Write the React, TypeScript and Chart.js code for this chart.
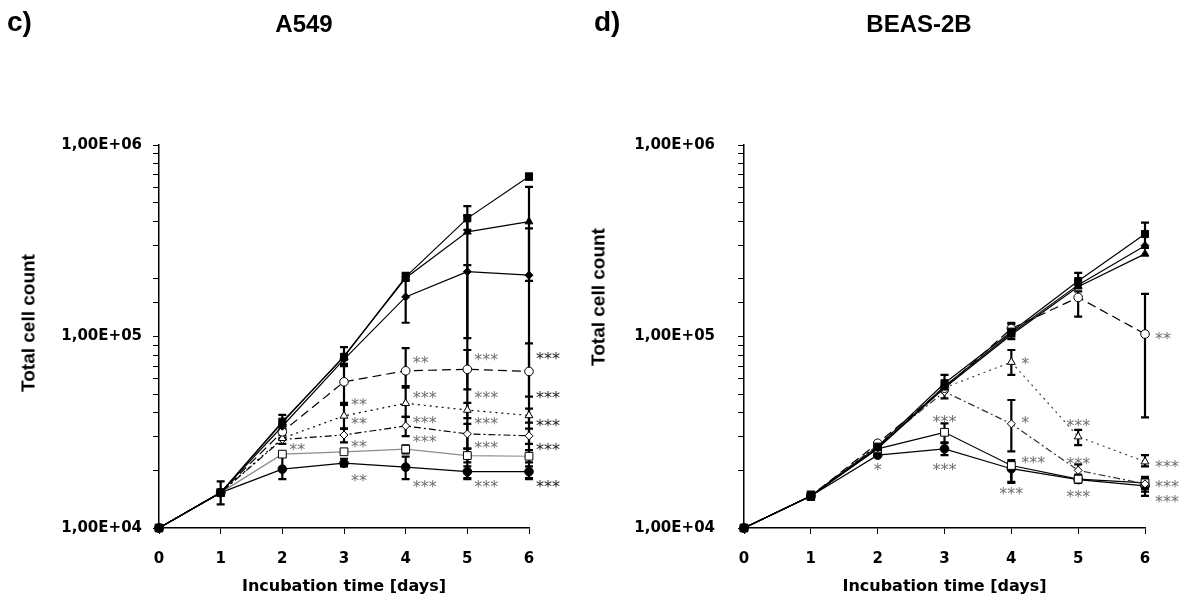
import React, { useEffect, useRef } from 'react';
import { Chart, registerables } from 'chart.js';
Chart.register(...registerables);

const DAYS = [0, 1, 2, 3, 4, 5, 6];
const Y_MIN = 1e4;
const Y_MAX = 1e6;
const X_TITLE = 'Incubation time [days]';
const Y_TITLE = 'Total cell count';

// ---------- A549 (panel c) ----------
const A549_CTRL = [1e4, 1.53e4, 3.59e4, 7.83e4, 2.05e5, 4.14e5, 6.84e5];
const A549_TRI_F = [1e4, 1.53e4, 3.55e4, 7.9e4, 2.02e5, 3.52e5, 3.98e5];
const A549_DIA_F = [1e4, 1.53e4, 3.4e4, 7.6e4, 1.61e5, 2.18e5, 2.09e5];
const A549_CIRC_O = [1e4, 1.53e4, 3.18e4, 5.8e4, 6.62e4, 6.74e4, 6.57e4];
const A549_TRI_O = [1e4, 1.53e4, 2.94e4, 3.85e4, 4.48e4, 4.13e4, 3.87e4];
const A549_DIA_O = [1e4, 1.53e4, 2.9e4, 3.06e4, 3.41e4, 3.1e4, 3.03e4];
const A549_SQ_O = [1e4, 1.53e4, 2.43e4, 2.5e4, 2.58e4, 2.39e4, 2.37e4];
const A549_CIRC_F = [1e4, 1.53e4, 2.03e4, 2.18e4, 2.08e4, 1.97e4, 1.97e4];

const A549_CTRL_LO = [null, 1.33e4, 3.3e4, 7.2e4, 1.95e5, 3.6e5, 6.6e5];
const A549_CTRL_HI = [null, 1.75e4, 3.9e4, 8.8e4, 2.15e5, 4.8e5, 7.1e5];
const A549_TRI_F_LO = [null, null, null, null, null, 9.8e4, 4.85e4];
const A549_TRI_F_HI = [null, null, null, null, null, 4.3e5, 6.05e5];
const A549_DIA_F_LO = [null, null, null, null, 1.18e5, 1.8e4, 1.95e5];
const A549_DIA_F_HI = [null, null, null, null, 2.05e5, 2.36e5, 3.67e5];
const A549_CIRC_O_LO = [null, null, 2.95e4, 4.5e4, 5.5e4, 5.3e4, 1.8e4];
const A549_CIRC_O_HI = [null, null, 3.4e4, 7.0e4, 8.7e4, 8.5e4, 9.2e4];
const A549_TRI_O_LO = [null, null, null, 3.3e4, 3.8e4, 3.75e4, 3.55e4];
const A549_TRI_O_HI = [null, null, null, 4.4e4, 5.4e4, 4.5e4, 4.2e4];
const A549_DIA_O_LO = [null, null, 2.75e4, 2.8e4, 3.02e4, 2.6e4, 2.75e4];
const A549_DIA_O_HI = [null, null, 3.05e4, 3.3e4, 3.8e4, 3.5e4, 3.3e4];
const A549_SQ_O_LO = [null, null, null, null, 2.45e4, 2.2e4, 2.2e4];
const A549_SQ_O_HI = [null, null, null, null, 2.7e4, 2.6e4, 2.55e4];
const A549_CIRC_F_LO = [null, null, 1.8e4, 2.1e4, 1.8e4, 1.82e4, 1.82e4];
const A549_CIRC_F_HI = [null, null, 2.35e4, 2.3e4, 2.36e4, 2.1e4, 2.1e4];

const A549_STAR_DAYS = [2, 3, 3, 3, 3, 4, 4, 4, 4, 4, 5, 5, 5, 5, 5, 6, 6, 6, 6, 6];
const A549_STAR_VALUES = [2.71e4, 4.64e4, 3.7e4, 2.81e4, 1.86e4, 7.7e4, 5.07e4, 3.75e4, 2.99e4, 1.74e4, 8.0e4, 5.07e4, 3.7e4, 2.78e4, 1.74e4, 8.1e4, 5.1e4, 3.62e4, 2.71e4, 1.74e4];
const A549_STAR_TEXT = ['**', '**', '**', '**', '**', '**', '***', '***', '***', '***', '***', '***', '***', '***', '***', '***', '***', '***', '***', '***'];
const A549_STAR_POS = A549_STAR_DAYS.map(() => 'r');

// ---------- BEAS-2B (panel d) ----------
const BEAS_CTRL = [1e4, 1.47e4, 2.66e4, 5.7e4, 1.06e5, 1.95e5, 3.43e5];
const BEAS_TRI_F = [1e4, 1.47e4, 2.6e4, 5.4e4, 1.02e5, 1.82e5, 2.7e5];
const BEAS_DIA_F = [1e4, 1.47e4, 2.62e4, 5.5e4, 1.04e5, 1.86e5, 2.98e5];
const BEAS_CIRC_O = [1e4, 1.47e4, 2.77e4, 5.37e4, 1.1e5, 1.6e5, 1.03e5];
const BEAS_TRI_O = [1e4, 1.47e4, 2.7e4, 5.4e4, 7.35e4, 3.0e4, 2.22e4];
const BEAS_DIA_O = [1e4, 1.47e4, 2.7e4, 5.15e4, 3.5e4, 2.0e4, 1.7e4];
const BEAS_SQ_O = [1e4, 1.47e4, 2.59e4, 3.16e4, 2.12e4, 1.8e4, 1.72e4];
const BEAS_CIRC_F = [1e4, 1.47e4, 2.4e4, 2.59e4, 2.04e4, 1.79e4, 1.66e4];

const BEAS_CTRL_LO = [null, 1.4e4, 2.55e4, 4.75e4, 9.7e4, 1.8e5, 2.9e5];
const BEAS_CTRL_HI = [null, 1.55e4, 2.8e4, 6.3e4, 1.18e5, 2.15e5, 3.93e5];
const BEAS_CIRC_O_LO = [null, null, null, null, 1.02e5, 1.27e5, 3.78e4];
const BEAS_CIRC_O_HI = [null, null, null, null, 1.16e5, 1.72e5, 1.67e5];
const BEAS_TRI_O_LO = [null, null, null, null, 6.3e4, 2.71e4, 2.1e4];
const BEAS_TRI_O_HI = [null, null, null, null, 8.5e4, 3.25e4, 2.4e4];
const BEAS_DIA_O_LO = [null, null, null, null, 2.51e4, 1.9e4, 1.6e4];
const BEAS_DIA_O_HI = [null, null, null, null, 4.66e4, 2.15e4, 1.8e4];
const BEAS_SQ_O_LO = [null, null, null, 2.77e4, 1.72e4, null, 1.55e4];
const BEAS_SQ_O_HI = [null, null, null, 3.52e4, 2.26e4, null, 1.85e4];
const BEAS_CIRC_F_LO = [null, null, null, 2.4e4, 1.74e4, 1.72e4, 1.47e4];
const BEAS_CIRC_F_HI = [null, null, null, 2.8e4, 2.2e4, 1.86e4, 1.75e4];

const BEAS_STAR_DAYS = [2, 3, 3, 4, 4, 4, 4, 5, 5, 5, 6, 6, 6, 6];
const BEAS_STAR_VALUES = [2.13e4, 3.8e4, 2.13e4, 7.64e4, 3.75e4, 2.32e4, 1.6e4, 3.62e4, 2.29e4, 1.55e4, 1.03e5, 2.22e4, 1.74e4, 1.46e4];
const BEAS_STAR_TEXT = ['*', '***', '***', '*', '*', '***', '***', '***', '***', '***', '**', '***', '***', '***'];
const BEAS_STAR_POS = ['c', 'c', 'c', 'r', 'r', 'r', 'c', 'c', 'c', 'c', 'r', 'r', 'r', 'r'];

// ---------- styles (one per series, same order in both panels) ----------
const STYLES = [
  { pointStyle: 'rect', radius: 5, fill: '#000', dash: [] as number[], line: '#000' },
  { pointStyle: 'triangle', radius: 4.5, fill: '#000', dash: [], line: '#000' },
  { pointStyle: 'rectRot', radius: 4, fill: '#000', dash: [], line: '#000' },
  { pointStyle: 'circle', radius: 4.3, fill: '#fff', dash: [9, 5], line: '#000' },
  { pointStyle: 'triangle', radius: 4.5, fill: '#fff', dash: [2, 4], line: '#000' },
  { pointStyle: 'rectRot', radius: 4, fill: '#fff', dash: [7, 3, 2, 3], line: '#000' },
  { pointStyle: 'rect', radius: 5.5, fill: '#fff', dash: [], line: '#000' },
  { pointStyle: 'circle', radius: 4.3, fill: '#000', dash: [], line: '#000' },
];

const TICK_FONT = { family: 'DejaVu Sans', weight: 'bold' as const, size: 15 };
const XTITLE_FONT = { family: 'DejaVu Sans', weight: 'bold' as const, size: 16 };

const errorBarPlugin = {
  id: 'errorBars',
  beforeDatasetsDraw(chart: any) {
    const { ctx, scales } = chart;
    const xs = scales.x, ys = scales.y;
    ctx.save();
    ctx.strokeStyle = '#000';
    ctx.lineWidth = 2.2;
    ctx.setLineDash([]);
    chart.data.datasets.forEach((ds: any) => {
      const lo = ds.errLow, hi = ds.errHigh;
      if (!lo || !hi) return;
      DAYS.forEach((d, i) => {
        if (lo[i] == null || hi[i] == null) return;
        const px = xs.getPixelForValue(d);
        const y1 = ys.getPixelForValue(lo[i]);
        const y2 = ys.getPixelForValue(hi[i]);
        ctx.beginPath();
        ctx.moveTo(px, y1); ctx.lineTo(px, y2);
        ctx.moveTo(px - 4, y1); ctx.lineTo(px + 4, y1);
        ctx.moveTo(px - 4, y2); ctx.lineTo(px + 4, y2);
        ctx.stroke();
      });
    });
    ctx.restore();
  },
};

const starPlugin = {
  id: 'stars',
  afterDatasetsDraw(chart: any, _args: any, opts: any) {
    const { ctx, scales } = chart;
    const p = opts.panel;
    if (!p) return;
    ctx.save();
    ctx.font = '16px "DejaVu Sans"';
    ctx.textBaseline = 'alphabetic';
    p.starDays.forEach((d: number, i: number) => {
      const px = scales.x.getPixelForValue(d);
      const py = scales.y.getPixelForValue(p.starValues[i]);
      const pos = p.starPos[i];
      ctx.fillStyle = p.darkLastDay && d === 6 ? '#1a1a1a' : '#6e6e6e';
      ctx.textAlign = pos === 'c' ? 'center' : 'left';
      const x = pos === 'c' ? px : px + p.starGap;
      ctx.fillText(p.starText[i], x, py + 10);
    });
    ctx.restore();
  },
};

function makeDatasets(series: number[][], lows: any[][], highs: any[][], lineColors: string[]) {
  return series.map((vals, k) => {
    const s = STYLES[k];
    return {
      data: DAYS.map((d, i) => ({ x: d, y: vals[i] })),
      errLow: lows[k],
      errHigh: highs[k],
      borderColor: lineColors[k] || s.line,
      borderWidth: 1.2,
      borderDash: s.dash,
      tension: 0,
      fill: false,
      clip: false,
      pointStyle: s.pointStyle,
      pointRadius: s.radius,
      pointBackgroundColor: s.fill,
      pointBorderColor: '#000',
      pointBorderWidth: 1,
      pointHoverRadius: s.radius,
    };
  });
}

const NONE = [null, null, null, null, null, null, null];

const PANELS = [
  {
    key: 'c',
    letter: 'c)',
    name: 'A549',
    canvasLeft: 0,
    canvasWidth: 570,
    yScaleWidth: 159,
    padRight: 41,
    yTickPad: 11,
    nameCenter: 304,
    letterLeft: 7,
    yTitleX: 28,
    yTitleY: 323,
    starGap: 7,
    darkLastDay: true,
    series: [A549_CTRL, A549_TRI_F, A549_DIA_F, A549_CIRC_O, A549_TRI_O, A549_DIA_O, A549_SQ_O, A549_CIRC_F],
    lows: [A549_CTRL_LO, A549_TRI_F_LO, A549_DIA_F_LO, A549_CIRC_O_LO, A549_TRI_O_LO, A549_DIA_O_LO, A549_SQ_O_LO, A549_CIRC_F_LO],
    highs: [A549_CTRL_HI, A549_TRI_F_HI, A549_DIA_F_HI, A549_CIRC_O_HI, A549_TRI_O_HI, A549_DIA_O_HI, A549_SQ_O_HI, A549_CIRC_F_HI],
    lineColors: ['', '', '', '', '', '', '#8c8c8c', ''],
    starDays: A549_STAR_DAYS,
    starValues: A549_STAR_VALUES,
    starText: A549_STAR_TEXT,
    starPos: A549_STAR_POS,
  },
  {
    key: 'd',
    letter: 'd)',
    name: 'BEAS-2B',
    canvasLeft: 570,
    canvasWidth: 614,
    yScaleWidth: 174,
    padRight: 39,
    yTickPad: 23,
    nameCenter: 919,
    letterLeft: 594,
    yTitleX: 598,
    yTitleY: 297,
    starGap: 10,
    darkLastDay: false,
    series: [BEAS_CTRL, BEAS_TRI_F, BEAS_DIA_F, BEAS_CIRC_O, BEAS_TRI_O, BEAS_DIA_O, BEAS_SQ_O, BEAS_CIRC_F],
    lows: [BEAS_CTRL_LO, NONE, NONE, BEAS_CIRC_O_LO, BEAS_TRI_O_LO, BEAS_DIA_O_LO, BEAS_SQ_O_LO, BEAS_CIRC_F_LO],
    highs: [BEAS_CTRL_HI, NONE, NONE, BEAS_CIRC_O_HI, BEAS_TRI_O_HI, BEAS_DIA_O_HI, BEAS_SQ_O_HI, BEAS_CIRC_F_HI],
    lineColors: ['', '', '', '', '#444', '#333', '', ''],
    starDays: BEAS_STAR_DAYS,
    starValues: BEAS_STAR_VALUES,
    starText: BEAS_STAR_TEXT,
    starPos: BEAS_STAR_POS,
  },
];

function Panel({ p }: { p: any }) {
  const ref = useRef<HTMLCanvasElement | null>(null);
  useEffect(() => {
    if (!ref.current) return;
    const chart = new Chart(ref.current, {
      type: 'line',
      data: { datasets: makeDatasets(p.series, p.lows, p.highs, p.lineColors) as any },
      plugins: [errorBarPlugin, starPlugin],
      options: {
        responsive: false,
        animation: false,
        devicePixelRatio: 1,
        events: [],
        layout: { padding: { top: 145, right: p.padRight, bottom: 0, left: 0 } },
        plugins: {
          legend: { display: false },
          tooltip: { enabled: false },
          stars: { panel: p },
        } as any,
        scales: {
          x: {
            type: 'linear',
            min: 0,
            max: 6,
            ticks: { stepSize: 1, font: TICK_FONT, color: '#000', padding: 16 },
            grid: { drawOnChartArea: false, drawTicks: true, tickLength: 6, color: '#000', lineWidth: 1 },
            border: { color: '#000', width: 1.5 },
            title: { display: true, text: X_TITLE, font: XTITLE_FONT, color: '#000', padding: { top: 0, bottom: 11 } },
            afterFit: (s: any) => { s.height = 79; },
          },
          y: {
            type: 'logarithmic',
            min: Y_MIN,
            max: Y_MAX,
            ticks: {
              autoSkip: false,
              font: TICK_FONT,
              color: '#000',
              padding: p.yTickPad,
              callback: (v: any) => {
                const e = Math.log10(Number(v));
                return Math.abs(e - Math.round(e)) < 1e-9 ? `1,00E+0${Math.round(e)}` : '';
              },
            },
            grid: { drawOnChartArea: false, drawTicks: true, tickLength: 6, color: '#000', lineWidth: 1 },
            border: { color: '#000', width: 1.5 },
            afterFit: (s: any) => { s.width = p.yScaleWidth; },
          },
        },
      } as any,
    });
    return () => chart.destroy();
  }, [p]);
  return (
    <canvas
      ref={ref}
      width={p.canvasWidth}
      height={607}
      style={{ position: 'absolute', left: p.canvasLeft, top: 0, width: p.canvasWidth, height: 607 }}
    />
  );
}

export default function App() {
  const head: React.CSSProperties = { position: 'absolute', fontFamily: '"Liberation Sans", Arial, sans-serif', fontWeight: 'bold', color: '#000', whiteSpace: 'nowrap' };
  return (
    <div style={{ position: 'fixed', left: 0, top: 0, width: 1184, height: 607, background: '#fff', overflow: 'hidden' }}>
      {PANELS.map((p) => (
        <React.Fragment key={p.key}>
          <Panel p={p} />
          <div style={{ ...head, left: p.letterLeft, top: 8, fontSize: 28, lineHeight: '28px' }}>{p.letter}</div>
          <div style={{ ...head, left: p.nameCenter, top: 12, fontSize: 24, lineHeight: '24px', transform: 'translateX(-50%)' }}>{p.name}</div>
          <div style={{ ...head, left: p.yTitleX, top: p.yTitleY, fontSize: 19, lineHeight: '19px', transform: 'translate(-50%, -50%) rotate(-90deg)' }}>{Y_TITLE}</div>
        </React.Fragment>
      ))}
    </div>
  );
}
